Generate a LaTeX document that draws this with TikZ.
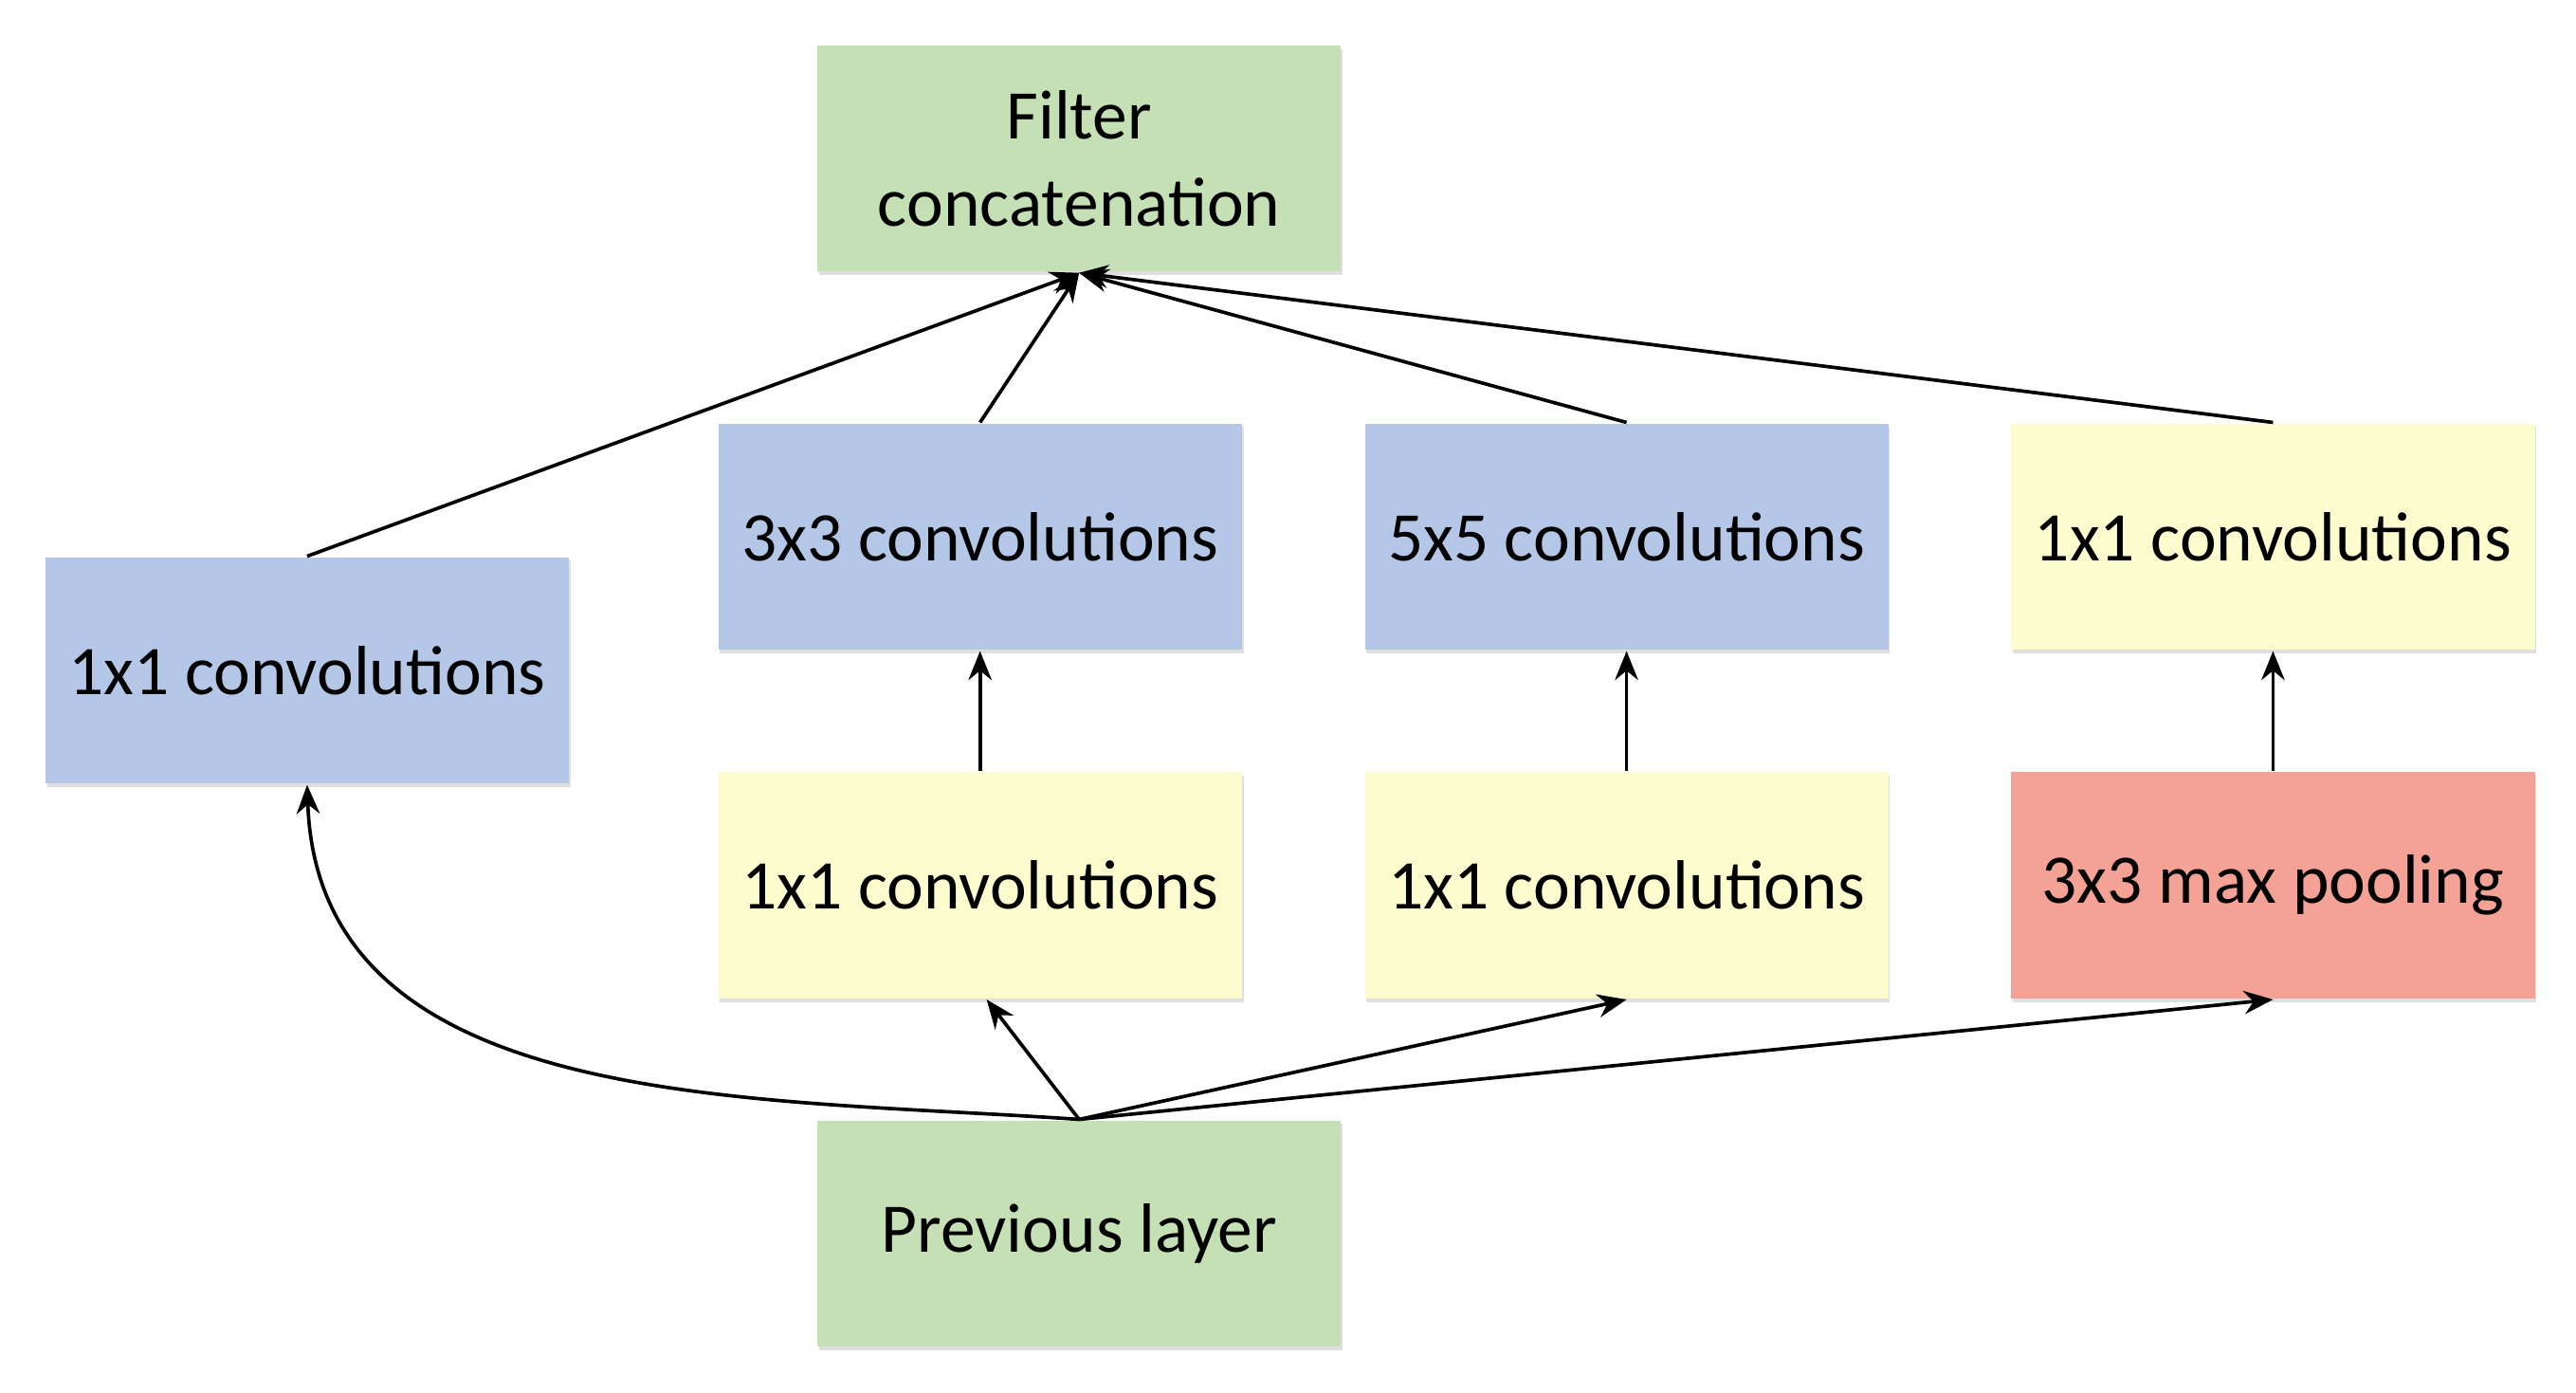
\documentclass[tikz,border=0pt]{standalone}
\usepackage{fontspec}
\setmainfont{Carlito}
\usepackage{xcolor}
\usetikzlibrary{arrows.meta,shadows}

\definecolor{boxgreen}{HTML}{C5E0B4}
\definecolor{boxblue}{HTML}{B4C7E7}
\definecolor{boxyellow}{HTML}{FCFCCF}
\definecolor{boxred}{HTML}{F4A296}

\tikzset{
  block/.style={rectangle,align=center,minimum width=3.17cm,minimum height=1.37cm,
    font=\fontsize{12}{15}\selectfont,drop shadow={shadow xshift=0.3pt,shadow yshift=-0.6pt,opacity=0.25}},
  link/.style={-{Stealth[length=5pt,width=4pt]},line width=0.6pt}
}

\begin{document}
\begin{tikzpicture}[scale=1.0]
      \useasboundingbox (0,0) rectangle (15.6,8.43);

      \node [block,fill=boxgreen] (concat) at (6.535, 7.47) {Filter\\concatenation};
      \node [block,fill=boxblue] (b1) at (1.86, 4.37) {1x1 convolutions};
      \node [block,fill=boxblue] (b3) at (5.935, 5.18) {3x3 convolutions};
      \node [block,fill=boxblue] (b5) at (9.85, 5.18) {5x5 convolutions};
      \node [block,fill=boxyellow] (p1) at (13.765, 5.18) {1x1 convolutions};
      \node [block,fill=boxyellow] (r3) at (5.935, 3.07) {1x1 convolutions};
      \node [block,fill=boxyellow] (r5) at (9.85, 3.07) {1x1 convolutions};
      \node [block,fill=boxred] (pool) at (13.765, 3.07) {3x3 max pooling};
      \node [block,fill=boxgreen] (prev) at (6.535, 0.96) {Previous layer};

      \draw [link] (prev.north) to[out=176,in=-88] (b1.south);
      \draw [link] (prev.north) -- ([xshift=0.04cm]r3.south);
      \draw [link] (prev.north) -- (r5.south);
      \draw [link] (prev.north) -- (pool.south);

      \draw [link] (r3) -- (b3);
      \draw [link] (r5) -- (b5);
      \draw [link] (pool) -- (p1);

      \draw [link] (b1.north) -- (concat.south);
      \draw [link] (b3.north) -- (concat.south);
      \draw [link] (b5.north) -- (concat.south);
      \draw [link] (p1.north) -- (concat.south);
    \end{tikzpicture}
\end{document}
